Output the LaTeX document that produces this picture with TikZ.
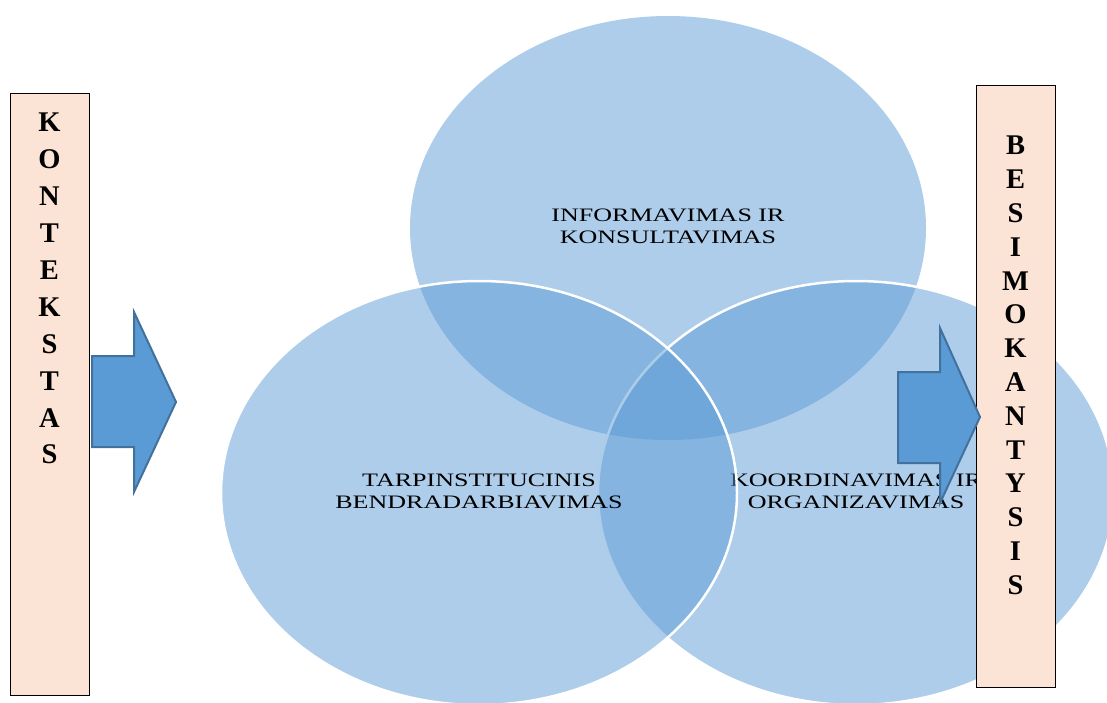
\documentclass[tikz,border=0pt]{standalone}
\usepackage{fontspec}
\setmainfont{Liberation Serif}
\usepackage{graphicx}
\usetikzlibrary{fit}
\usetikzlibrary{shapes.geometric}

\definecolor{venn}{HTML}{5B9BD5}
\definecolor{arrowfill}{HTML}{5B9BD5}
\definecolor{arrowline}{HTML}{41719C}
\definecolor{peach}{HTML}{FBE4D5}

\newcommand{\wide}[1]{\scalebox{1.37}[1]{\begin{tabular}{@{}c@{}}#1\end{tabular}}}

\tikzset{
	circ/.style={ellipse, minimum width=516pt, minimum height=424pt, inner sep=0pt, fill=venn, fill opacity=.5, text opacity=1, font=\fontsize{19}{22.5}\selectfont},
	sidebox/.style={draw, fill=peach, inner sep=0pt, line width=.8pt},
	letters/.style={align=center, inner sep=0pt, anchor=north, font=\bfseries\fontsize{28.5}{#1}\selectfont},
	blockarrow/.style={fill=arrowfill, draw=arrowline, line width=2pt}
}

\begin{document}
\begin{tikzpicture}[x=1pt, y=-1pt]
	\clip (0,0) rectangle (1107,702);	% page

	\node[circ] (I) at (668,228) {\wide{INFORMAVIMAS IR\\KONSULTAVIMAS}};	% ellipses
	\node[circ, draw=white, line width=2.5pt] (O) at (856,493) {\wide{KOORDINAVIMAS IR\\ORGANIZAVIMAS}};
	\node[circ, draw=white, line width=2.5pt] (T) at (479,493) {\wide{TARPINSTITUCINIS\\BENDRADARBIAVIMAS}};

	\node[sidebox, fit={(10,93) (89,695)}] (A) {};	% side boxes
	\node[letters=36.9] (a) at (49.5,113) {K\\O\\N\\T\\E\\K\\S\\T\\A\\S};
	\node[sidebox, fit={(976,85) (1055,687)}] (B) {};
	\node[letters=33.8] (b) at (1015.5,136) {B\\E\\S\\I\\M\\O\\K\\A\\N\\T\\Y\\S\\I\\S};

	\draw[blockarrow] (92,356) -- (134,356) -- (134,312) -- (176,402) -- (134,492) -- (134,447) -- (92,447) -- cycle;	% arrows
	\draw[blockarrow] (898,372) -- (940,372) -- (940,328) -- (980,417) -- (940,503) -- (940,463) -- (898,463) -- cycle;
\end{tikzpicture}
\end{document}
